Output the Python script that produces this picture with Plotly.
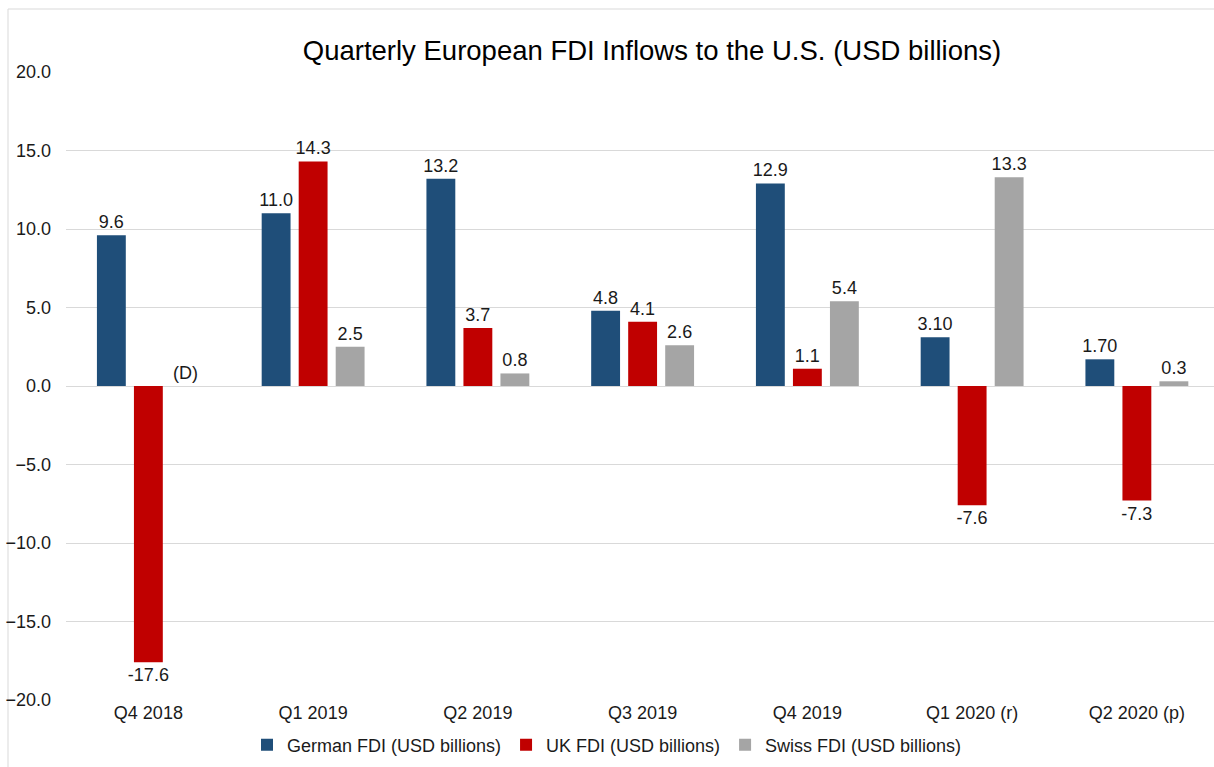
import plotly.graph_objects as go

quarters = ["Q4 2018", "Q1 2019", "Q2 2019", "Q3 2019", "Q4 2019", "Q1 2020 (r)", "Q2 2020 (p)"]

german = [9.6, 11.0, 13.2, 4.8, 12.9, 3.10, 1.70]
german_text = ["9.6", "11.0", "13.2", "4.8", "12.9", "3.10", "1.70"]

uk = [-17.6, 14.3, 3.7, 4.1, 1.1, -7.6, -7.3]
uk_text = ["-17.6", "14.3", "3.7", "4.1", "1.1", "-7.6", "-7.3"]

# Q4 2018 Swiss figure is suppressed (D) and plotted at zero
swiss = [0, 2.5, 0.8, 2.6, 5.4, 13.3, 0.3]
swiss_text = ["(D)", "2.5", "0.8", "2.6", "5.4", "13.3", "0.3"]

series = [
    ("German FDI (USD billions)", german, german_text, "#1F4E79"),
    ("UK FDI (USD billions)", uk, uk_text, "#C00000"),
    ("Swiss FDI (USD billions)", swiss, swiss_text, "#A5A5A5"),
]

FONT = "Liberation Sans, Arial, sans-serif"
TEXT_COLOR = "#1A1A1A"

fig = go.Figure()
for name, vals, txt, color in series:
    fig.add_trace(go.Bar(
        x=quarters, y=vals, name=name,
        marker=dict(color=color, line=dict(width=0)),
        text=txt, textposition="outside", cliponaxis=False,
        textfont=dict(size=18, color=TEXT_COLOR, family=FONT),
    ))

W, H = 1214, 767
ML, MR, MT, MB = 66, 0, 72, 67
pw = W - ML - MR
ph = H - MT - MB
cat_w = 164.75
x_hi = -0.5 + pw / cat_w

fig.update_layout(
    width=W, height=H,
    margin=dict(l=ML, r=MR, t=MT, b=MB, pad=0),
    paper_bgcolor="white", plot_bgcolor="white",
    font=dict(family=FONT, size=18, color=TEXT_COLOR),
    uniformtext=dict(minsize=18, mode="show"),
    barmode="group", bargap=0.326, bargroupgap=0.22,
    title=dict(
        text="Quarterly European FDI Inflows to the U.S. (USD billions)",
        font=dict(size=27.5, color="#000000", family=FONT),
        xref="paper", x=(652 - ML) / pw, xanchor="center",
        yref="container", y=1 - 50 / H, yanchor="middle",
    ),
    xaxis=dict(
        range=[-0.5, x_hi], showgrid=False, zeroline=False, showline=False,
        ticks="", tickfont=dict(size=18, color=TEXT_COLOR),
    ),
    yaxis=dict(
        range=[-20, 20], dtick=5, tickformat=".1f",
        showgrid=True, gridcolor="#D9D9D9", gridwidth=1,
        zeroline=True, zerolinecolor="#D9D9D9", zerolinewidth=1,
        showline=False, ticks="", ticklabelstandoff=14,
        tickfont=dict(size=18, color=TEXT_COLOR),
    ),
    legend=dict(
        orientation="h", xref="paper", x=(247 - ML) / pw, xanchor="left",
        yref="paper", y=(MT + ph - 745) / ph, yanchor="middle",
        font=dict(size=18, color=TEXT_COLOR), itemwidth=30,
        bgcolor="rgba(0,0,0,0)",
    ),
    showlegend=True,
)

# thin frame around the chart area
fig.add_shape(
    type="rect", xref="paper", yref="paper",
    x0=(8 - ML) / pw, x1=(W + 20 - ML) / pw,
    y0=(MT + ph - (H + 20)) / ph, y1=(MT + ph - 9) / ph,
    line=dict(color="#D9D9D9", width=1), fillcolor="rgba(0,0,0,0)", layer="below",
)

fig.write_html("out.html")
